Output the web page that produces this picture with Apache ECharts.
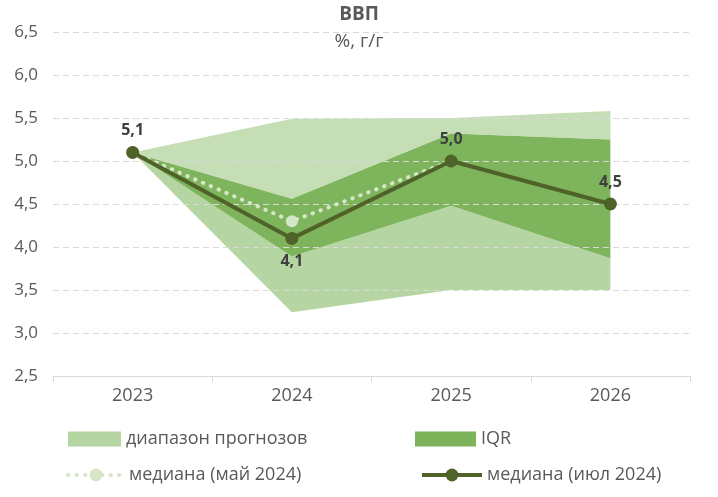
<!DOCTYPE html>
<html>
<head>
<meta charset="utf-8">
<script src="https://cdn.jsdelivr.net/npm/echarts@6/dist/echarts.min.js"></script>
<style>html,body{margin:0;padding:0;background:#fff}#c{width:718px;height:497px}</style>
</head>
<body>
<div id="c"></div>
<script>
// Data
const years = ['2023', '2024', '2025', '2026'];
const rangeMin = [5.1, 3.24, 3.5, 3.5];
const iqrLow = [5.1, 3.89, 4.48, 3.87];
const iqrHigh = [5.1, 4.56, 5.32, 5.25];
const rangeMax = [5.1, 5.49, 5.5, 5.58];
const medianMay = [5.1, 4.3, 5.0, null];
const medianJul = [5.1, 4.1, 5.0, 4.5];
const julLabelPos = ['top', 'bottom', 'top', 'top'];

const FONT = 'Open Sans';
const TXT = '#595959';
const rangeName = 'диапазон прогнозов';
const MAYC = '#d6e6c9';
const JULC = '#4f6228';

const diff = (a, b) => a.map((v, i) => +(v - b[i]).toFixed(4));
const legText = { color: TXT, fontFamily: FONT, fontSize: 18 };

const chart = echarts.init(document.getElementById('c'));
chart.setOption({
  animation: false,
  backgroundColor: '#fff',
  title: [
    { text: 'ВВП', left: 'center', top: 5, padding: 0, textStyle: { fontFamily: FONT, fontSize: 19, fontWeight: 'bold', color: TXT } },
    { text: '%, г/г', left: 'center', top: 32, padding: 0, textStyle: { fontFamily: FONT, fontSize: 19, fontWeight: 'normal', color: TXT } }
  ],
  grid: { left: 53, right: 28, top: 32, bottom: 121, containLabel: false },
  xAxis: {
    type: 'category', data: years, boundaryGap: true,
    axisLine: { lineStyle: { color: '#d9d9d9', width: 1 } },
    axisTick: { show: true, length: 6, lineStyle: { color: '#d9d9d9' } },
    axisLabel: { color: TXT, fontFamily: FONT, fontSize: 18, margin: 11 }
  },
  yAxis: {
    type: 'value', min: 2.5, max: 6.5, interval: 0.5, z: 3,
    axisLine: { show: false }, axisTick: { show: false },
    axisLabel: { color: TXT, fontFamily: FONT, fontSize: 17, margin: 15,
      formatter: v => v.toFixed(1).replace('.', ',') },
    splitLine: { lineStyle: { color: '#d9d9d9', type: [6, 4], width: 1 } }
  },
  legend: [
    { data: [{ name: rangeName, icon: 'rect' }], left: 68, top: 430, padding: 0, itemWidth: 53, itemHeight: 15, textStyle: legText },
    { data: [{ name: 'IQR', icon: 'rect' }], left: 415, top: 430, padding: 0, itemWidth: 61, itemHeight: 15, textStyle: legText },
    { data: [{ name: 'медиана (май 2024)', lineStyle: { width: 4 } }], left: 66, top: 466, padding: 0, itemWidth: 56, itemHeight: 16, textStyle: legText },
    { data: [{ name: 'медиана (июл 2024)', lineStyle: { width: 4 } }], left: 420, top: 466, padding: 0, itemWidth: 60, itemHeight: 16, textStyle: legText }
  ],
  series: [
    { name: 'base', type: 'line', stack: 'band', data: rangeMin, symbol: 'none', lineStyle: { width: 0 }, areaStyle: { opacity: 0 }, silent: true, z: 1 },
    { name: rangeName, type: 'line', stack: 'band', data: diff(iqrLow, rangeMin), symbol: 'none', itemStyle: { color: '#b5d6a2' }, lineStyle: { width: 0 }, areaStyle: { color: 'rgba(160,202,136,0.78)', opacity: 1 }, z: 1 },
    { name: 'IQR', type: 'line', stack: 'band', data: diff(iqrHigh, iqrLow), symbol: 'none', itemStyle: { color: '#7db35b' }, lineStyle: { width: 0 }, areaStyle: { color: 'rgba(108,170,70,0.88)', opacity: 1 }, z: 1 },
    { name: rangeName, type: 'line', stack: 'band', data: diff(rangeMax, iqrHigh), symbol: 'none', itemStyle: { color: '#b5d6a2' }, lineStyle: { width: 0 }, areaStyle: { color: 'rgba(172,208,149,0.7)', opacity: 1 }, z: 1 },
    { name: 'медиана (май 2024)', type: 'line', data: medianMay, symbol: 'circle', symbolSize: 12, showSymbol: true,
      itemStyle: { color: MAYC }, lineStyle: { color: MAYC, width: 4, type: [0.5, 8], cap: 'round' }, z: 5 },
    { name: 'медиана (июл 2024)', type: 'line', data: medianJul.map((v, i) => ({ value: v, label: { position: julLabelPos[i], distance: julLabelPos[i] === 'bottom' ? 9 : 7 } })),
      symbol: 'circle', symbolSize: 13,
      itemStyle: { color: JULC }, lineStyle: { color: JULC, width: 4 }, z: 6,
      label: { show: true, color: '#404040', fontFamily: FONT, fontSize: 16, fontWeight: 'bold', distance: 7,
        formatter: p => (+p.value).toFixed(1).replace('.', ',') } }
  ]
});
</script>
</body>
</html>
